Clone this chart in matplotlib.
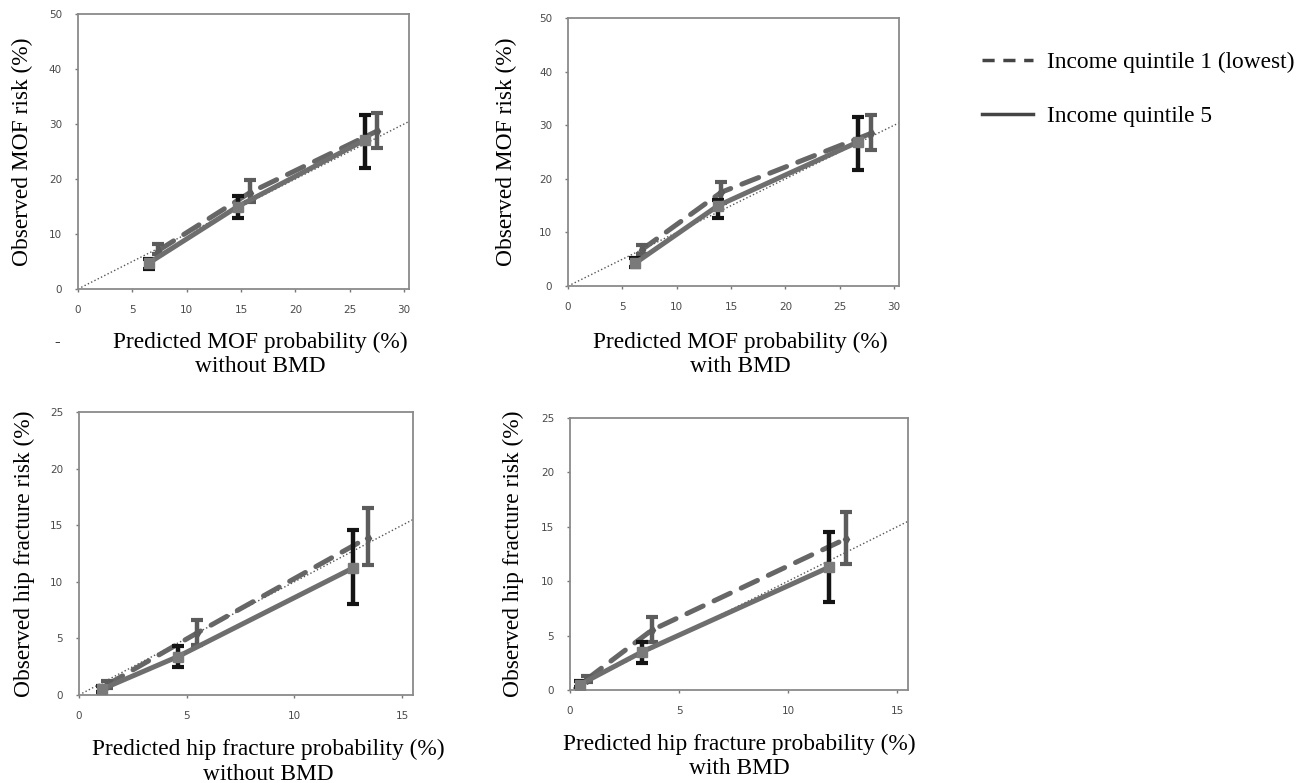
"""
Calibration plots: observed vs predicted fracture risk by income quintile.
Four panels (MOF / hip, without / with BMD) plus a figure-level legend.
"""

import numpy as np
import matplotlib
matplotlib.use("Agg")
import matplotlib.pyplot as plt
from matplotlib.lines import Line2D

SERIF = "Liberation Serif"

# ── Data ────────────────────────────────────────────────────────────────────────
# Income quintile 1 (lowest) — dashed line, grey error bars
mof_nobmd_q1_x  = [7.4, 15.8, 27.5]
mof_nobmd_q1_y  = [7.0, 17.5, 28.7]
mof_nobmd_q1_lo = [6.4, 15.8, 25.6]
mof_nobmd_q1_hi = [8.2, 19.8, 32.0]
# Income quintile 5 — solid line, black error bars
mof_nobmd_q5_x  = [6.5, 14.7, 26.4]
mof_nobmd_q5_y  = [4.7, 15.0, 27.1]
mof_nobmd_q5_lo = [3.7, 12.9, 22.0]
mof_nobmd_q5_hi = [5.4, 16.9, 31.6]

mof_bmd_q1_x  = [6.8, 14.1, 27.9]
mof_bmd_q1_y  = [6.8, 17.5, 28.5]
mof_bmd_q1_lo = [6.0, 15.5, 25.4]
mof_bmd_q1_hi = [7.6, 19.4, 31.9]
mof_bmd_q5_x  = [6.2, 13.8, 26.7]
mof_bmd_q5_y  = [4.3, 15.0, 26.9]
mof_bmd_q5_lo = [3.6, 12.7, 21.6]
mof_bmd_q5_hi = [5.2, 16.0, 31.5]

hip_nobmd_q1_x  = [1.3, 5.5, 13.4]
hip_nobmd_q1_y  = [0.9, 5.5, 13.9]
hip_nobmd_q1_lo = [0.6, 4.4, 11.5]
hip_nobmd_q1_hi = [1.2, 6.6, 16.5]
hip_nobmd_q5_x  = [1.05, 4.6, 12.7]
hip_nobmd_q5_y  = [0.5, 3.4, 11.2]
hip_nobmd_q5_lo = [0.3, 2.5, 8.0]
hip_nobmd_q5_hi = [0.8, 4.3, 14.6]

hip_bmd_q1_x  = [0.78, 3.75, 12.66]
hip_bmd_q1_y  = [1.0, 5.5, 13.9]
hip_bmd_q1_lo = [0.7, 4.4, 11.6]
hip_bmd_q1_hi = [1.3, 6.7, 16.4]
hip_bmd_q5_x  = [0.46, 3.3, 11.9]
hip_bmd_q5_y  = [0.5, 3.5, 11.3]
hip_bmd_q5_lo = [0.3, 2.5, 8.1]
hip_bmd_q5_hi = [0.8, 4.4, 14.5]

legend_labels = ["Income quintile 1 (lowest)", "Income quintile 5"]

# ── Panel definitions ──────────────────────────────────────────────────────────
panels = [
    dict(rect=[0.0600, 0.6309, 0.2548, 0.3512],
         q1=(mof_nobmd_q1_x, mof_nobmd_q1_y, mof_nobmd_q1_lo, mof_nobmd_q1_hi),
         q5=(mof_nobmd_q5_x, mof_nobmd_q5_y, mof_nobmd_q5_lo, mof_nobmd_q5_hi),
         xmax=30.45, ymax=50, xstep=5, ystep=10,
         ylabel="Observed MOF risk (%)",
         xlabel="Predicted MOF probability (%)\nwithout BMD",
         ylc=-0.136, xlc=(0.55, -0.155)),
    dict(rect=[0.4373, 0.6347, 0.2548, 0.3423],
         q1=(mof_bmd_q1_x, mof_bmd_q1_y, mof_bmd_q1_lo, mof_bmd_q1_hi),
         q5=(mof_bmd_q5_x, mof_bmd_q5_y, mof_bmd_q5_lo, mof_bmd_q5_hi),
         xmax=30.45, ymax=50, xstep=5, ystep=10,
         ylabel="Observed MOF risk (%)",
         xlabel="Predicted MOF probability (%)\nwith BMD",
         ylc=-0.154, xlc=(0.52, -0.17)),
    dict(rect=[0.0608, 0.1124, 0.2571, 0.3614],
         q1=(hip_nobmd_q1_x, hip_nobmd_q1_y, hip_nobmd_q1_lo, hip_nobmd_q1_hi),
         q5=(hip_nobmd_q5_x, hip_nobmd_q5_y, hip_nobmd_q5_lo, hip_nobmd_q5_hi),
         xmax=15.5, ymax=25, xstep=5, ystep=5,
         ylabel="Observed hip fracture risk (%)",
         xlabel="Predicted hip fracture probability (%)\nwithout BMD",
         ylc=-0.132, xlc=(0.566, -0.155)),
    dict(rect=[0.4388, 0.1188, 0.2602, 0.3474],
         q1=(hip_bmd_q1_x, hip_bmd_q1_y, hip_bmd_q1_lo, hip_bmd_q1_hi),
         q5=(hip_bmd_q5_x, hip_bmd_q5_y, hip_bmd_q5_lo, hip_bmd_q5_hi),
         xmax=15.5, ymax=25, xstep=5, ystep=5,
         ylabel="Observed hip fracture risk (%)",
         xlabel="Predicted hip fracture probability (%)\nwith BMD",
         ylc=-0.136, xlc=(0.50, -0.16)),
]

fig = plt.figure(figsize=(12.99, 7.83), dpi=100)

for p in panels:
    ax = fig.add_axes(p["rect"])
    x1, y1, lo1, hi1 = (np.array(v) for v in p["q1"])
    x5, y5, lo5, hi5 = (np.array(v) for v in p["q5"])

    # identity (perfect calibration) line
    ax.plot([0, p["xmax"]], [0, p["xmax"]], ":", color="#555555", lw=1.0,
            zorder=1)

    # quintile 1: dashed grey line, grey CIs
    ax.errorbar(x1, y1, yerr=[y1 - lo1, hi1 - y1], fmt="none",
                ecolor="#5c5c5c", elinewidth=3.2, capsize=4, capthick=3.0,
                zorder=3)
    ax.plot(x1, y1, color="#666666", lw=3.6, dashes=(3.6, 2.4), marker="d",
            ms=5.5, mfc="#5a5a5a", mec="#5a5a5a", zorder=2,
            dash_capstyle="round")

    # quintile 5: solid grey line, squares, black CIs
    ax.errorbar(x5, y5, yerr=[y5 - lo5, hi5 - y5], fmt="none",
                ecolor="#141414", elinewidth=3.2, capsize=4, capthick=3.0,
                zorder=3)
    ax.plot(x5, y5, "-", color="#6e6e6e", lw=3.6, marker="s", ms=6.5,
            mfc="#7a7a7a", mec="#7a7a7a", zorder=4, solid_capstyle="round")

    ax.set_xlim(0, p["xmax"])
    ax.set_ylim(0, p["ymax"])
    ax.set_xticks(np.arange(0, p["xmax"], p["xstep"]))
    ax.set_yticks(np.arange(0, p["ymax"] + 0.1, p["ystep"]))
    ax.tick_params(length=2.5, width=1.0, color="#777777", pad=9,
                   labelsize=7.5, labelcolor="#4a4a4a")
    for s in ax.spines.values():
        s.set_color("#8a8a8a")
        s.set_linewidth(1.3)

    ax.set_ylabel(p["ylabel"], fontsize=16.8, family=SERIF)
    ax.yaxis.set_label_coords(p["ylc"], 0.5)
    ax.set_xlabel(p["xlabel"], fontsize=16.8, family=SERIF, linespacing=1.22)
    ax.xaxis.set_label_coords(*p["xlc"])

# stray dash left of the first x-label in the original
fig.text(57 / 1299, 1 - 342 / 783, "-", fontsize=12, family=SERIF,
         ha="center", va="center")

# ── Figure legend (top right) ──────────────────────────────────────────────────
handles = [
    Line2D([], [], color="#444444", lw=2.5, dashes=(3.5, 2.5)),
    Line2D([], [], color="#444444", lw=2.5),
]
fig.legend(handles, legend_labels, loc="upper left",
           bbox_to_anchor=(982 / 1299, 1 - 52 / 783), frameon=False,
           prop=dict(family=SERIF, size=16.8), handlelength=2.2,
           handletextpad=0.6, labelspacing=1.4, borderpad=0,
           borderaxespad=0)

fig.savefig("out.png", dpi=100)
